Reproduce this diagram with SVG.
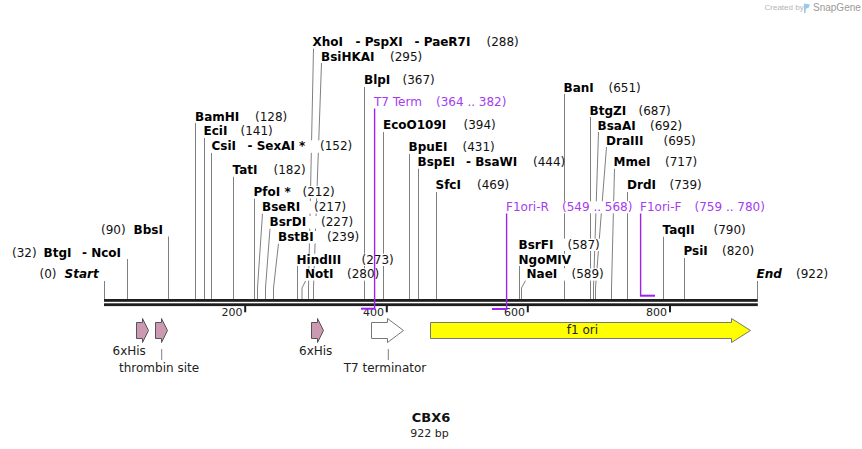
<svg xmlns="http://www.w3.org/2000/svg" width="862" height="449" viewBox="0 0 862 449">
<style>
.nm{font-family:"DejaVu Sans",Verdana,sans-serif;font-size:12px;font-weight:bold;fill:#000}
.it{font-style:italic}
.num{font-family:"DejaVu Sans",Verdana,sans-serif;font-size:12px;fill:#111}
.pr{font-family:"DejaVu Sans",Verdana,sans-serif;font-size:12px;fill:#a43cf0}
.bg{fill:#fff}
.cut{fill:none;stroke:#808080;stroke-width:1}
.prl{fill:none;stroke:#a020f0;stroke-width:1.4}
.prh{fill:none;stroke:#a020f0;stroke-width:2}
.ft{font-family:"DejaVu Sans",Verdana,sans-serif;font-size:12px;fill:#222}
.tk{font-family:"DejaVu Sans",Verdana,sans-serif;font-size:11px;fill:#222;text-anchor:end}
.pink{fill:#cc99b2;stroke:#555;stroke-width:1}
.lead{stroke:#808080;stroke-width:1}
</style>

<g id="connectors">
<path class="cut" d="M104.5,281V299"/>
<path class="cut" d="M127.5,259V299"/>
<path class="cut" d="M168.5,236.5V299"/>
<path class="cut" d="M195.5,123V299"/>
<path class="cut" d="M204.5,138V299"/>
<path class="cut" d="M211.5,153V299"/>
<path class="cut" d="M233.5,176.5V299"/>
<path class="cut" d="M254.5,198.5V299"/>
<path class="cut" d="M262.5,213.5L257.5,288V299"/>
<path class="cut" d="M270,228.5L265.5,288V299"/>
<path class="cut" d="M278.5,243.5L273.5,288V299"/>
<path class="cut" d="M297.5,266V299"/>
<path class="cut" d="M305.5,281L302,288V299"/>
<path class="cut" d="M313.5,48.5L308.5,288V299"/>
<path class="cut" d="M321.5,63L313.5,288V299"/>
<path class="cut" d="M364.5,87V299"/>
<path class="cut" d="M383.5,132V299"/>
<path class="cut" d="M409.5,154V299"/>
<path class="cut" d="M418.5,168.5V299"/>
<path class="cut" d="M436.5,192V299"/>
<path class="cut" d="M519.5,266V299"/>
<path class="cut" d="M525.5,280.5L521.5,288V299"/>
<path class="cut" d="M564.5,94V299"/>
<path class="cut" d="M590.5,117V299"/>
<path class="cut" d="M598.5,132L593.5,288V299"/>
<path class="cut" d="M606.5,147L595.5,288V299"/>
<path class="cut" d="M614.5,168.5L611.5,288V299"/>
<path class="cut" d="M627.5,192V299"/>
<path class="cut" d="M663.5,236.5V299"/>
<path class="cut" d="M684.5,258V299"/>
<path class="cut" d="M757.5,281V299"/>
<path class="lead" d="M161.7,349V360"/>
<path class="lead" d="M388.3,349V360"/>
</g>

<g id="backbone">
<rect x="104" y="299" width="653.8" height="2.8" fill="#1e1e1e"/>
<rect x="104" y="303.3" width="653.8" height="2.8" fill="#1e1e1e"/>
<rect x="244.2" y="306" width="2" height="6.3" fill="#1e1e1e"/>
<rect x="385.8" y="306" width="2" height="6.3" fill="#1e1e1e"/>
<rect x="526.8" y="306" width="2" height="6.3" fill="#1e1e1e"/>
<rect x="669" y="306" width="2" height="6.3" fill="#1e1e1e"/>
<text class="tk" x="242.5" y="316">200</text>
<text class="tk" x="384" y="316">400</text>
<text class="tk" x="525" y="316">600</text>
<text class="tk" x="667" y="316">800</text>
</g>

<g id="site-start"><rect class="bg" x="38" y="268" width="62" height="12.5"/><text class="num" x="39.5" y="278.3">(0)</text><text class="nm it" x="64.5" y="278.3">Start</text></g>
<g id="site-BtgI"><rect class="bg" x="11" y="246.7" width="112" height="12.3"/><text class="num" x="12" y="256.7">(32)</text><text class="nm" x="43.5" y="256.7">BtgI</text><text class="nm" x="82" y="256.7">- NcoI</text></g>
<g id="site-BbsI"><rect class="bg" x="100" y="224" width="66" height="12.5"/><text class="num" x="101" y="234">(90)</text><text class="nm" x="133.5" y="234">BbsI</text></g>
<g id="site-BamHI"><rect class="bg" x="194" y="110.7" width="94" height="12.3"/><text class="nm" x="195" y="120.7">BamHI</text><text class="num" x="255" y="120.7">(128)</text></g>
<g id="site-EciI"><rect class="bg" x="202.5" y="125.3" width="72" height="12.5"/><text class="nm" x="203.5" y="135.3">EciI</text><text class="num" x="240.5" y="135.3">(141)</text></g>
<g id="site-CsiI"><rect class="bg" x="210.5" y="140.3" width="143" height="12.5"/><text class="nm" x="211.5" y="150.3">CsiI</text><text class="nm" x="247.5" y="150.3">- SexAI *</text><text class="num" x="320" y="150.3">(152)</text></g>
<g id="site-TatI"><rect class="bg" x="231.5" y="164" width="76" height="12.5"/><text class="nm" x="232.5" y="174">TatI</text><text class="num" x="273.5" y="174">(182)</text></g>
<g id="site-PfoI"><rect class="bg" x="252.5" y="186" width="84" height="12.5"/><text class="nm" x="253.5" y="196">PfoI *</text><text class="num" x="302.5" y="196">(212)</text></g>
<g id="site-BseRI"><rect class="bg" x="261" y="201" width="87" height="12.5"/><text class="nm" x="262" y="211">BseRI</text><text class="num" x="314" y="211">(217)</text></g>
<g id="site-BsrDI"><rect class="bg" x="268.5" y="216" width="86" height="12.5"/><text class="nm" x="269.5" y="226">BsrDI</text><text class="num" x="321" y="226">(227)</text></g>
<g id="site-BstBI"><rect class="bg" x="277" y="231" width="83" height="12.5"/><text class="nm" x="278" y="241">BstBI</text><text class="num" x="327" y="241">(239)</text></g>
<g id="site-HindIII"><rect class="bg" x="295.5" y="253.7" width="99" height="12.3"/><text class="nm" x="296.5" y="263.7">HindIII</text><text class="num" x="361.5" y="263.7">(273)</text></g>
<g id="site-NotI"><rect class="bg" x="304" y="268.3" width="77" height="12.3"/><text class="nm" x="305" y="278.3">NotI</text><text class="num" x="347" y="278.3">(280)</text></g>
<g id="site-XhoI"><rect class="bg" x="311.5" y="36" width="208" height="12.5"/><text class="nm" x="312.5" y="46">XhoI</text><text class="nm" x="355.5" y="46">- PspXI</text><text class="nm" x="414.5" y="46">- PaeR7I</text><text class="num" x="486.5" y="46">(288)</text></g>
<g id="site-BsiHKAI"><rect class="bg" x="320" y="50.7" width="104" height="12.3"/><text class="nm" x="321" y="60.7">BsiHKAI</text><text class="num" x="390" y="60.7">(295)</text></g>
<g id="site-BlpI"><rect class="bg" x="363" y="74.3" width="73" height="12.5"/><text class="nm" x="364" y="84.3">BlpI</text><text class="num" x="402.5" y="84.3">(367)</text></g>
<g id="site-EcoO109I"><rect class="bg" x="382" y="119.3" width="115" height="12.5"/><text class="nm" x="383" y="129.3">EcoO109I</text><text class="num" x="463.5" y="129.3">(394)</text></g>
<g id="site-BpuEI"><rect class="bg" x="407.5" y="141.3" width="89" height="12.5"/><text class="nm" x="408.5" y="151.3">BpuEI</text><text class="num" x="462.5" y="151.3">(431)</text></g>
<g id="site-BspEI"><rect class="bg" x="416.5" y="156" width="146" height="12.5"/><text class="nm" x="417.5" y="166">BspEI</text><text class="nm" x="466" y="166">- BsaWI</text><text class="num" x="533" y="166">(444)</text></g>
<g id="site-SfcI"><rect class="bg" x="434.5" y="179.3" width="76" height="12.5"/><text class="nm" x="435.5" y="189.3">SfcI</text><text class="num" x="477" y="189.3">(469)</text></g>
<g id="site-BsrFI"><rect class="bg" x="517.5" y="238.7" width="83" height="12.3"/><text class="nm" x="518.5" y="248.7">BsrFI</text><text class="num" x="567.5" y="248.7">(587)</text></g>
<g id="site-NgoMIV"><rect class="bg" x="517.5" y="253.7" width="49" height="12.3"/><text class="nm" x="518.5" y="263.7">NgoMIV</text></g>
<g id="site-NaeI"><rect class="bg" x="525.5" y="268.3" width="79" height="12.3"/><text class="nm" x="526.5" y="278.3">NaeI</text><text class="num" x="571.5" y="278.3">(589)</text></g>
<g id="site-BanI"><rect class="bg" x="562.5" y="81.7" width="80" height="12.3"/><text class="nm" x="563.5" y="91.7">BanI</text><text class="num" x="608.5" y="91.7">(651)</text></g>
<g id="site-BtgZI"><rect class="bg" x="588.5" y="104.7" width="84" height="12.3"/><text class="nm" x="589.5" y="114.7">BtgZI</text><text class="num" x="638.5" y="114.7">(687)</text></g>
<g id="site-BsaAI"><rect class="bg" x="596.5" y="119.7" width="88" height="12.3"/><text class="nm" x="597.5" y="129.7">BsaAI</text><text class="num" x="650" y="129.7">(692)</text></g>
<g id="site-DraIII"><rect class="bg" x="605" y="134.7" width="93" height="12.3"/><text class="nm" x="606" y="144.7">DraIII</text><text class="num" x="663.5" y="144.7">(695)</text></g>
<g id="site-MmeI"><rect class="bg" x="612.5" y="156.3" width="86" height="12.3"/><text class="nm" x="613.5" y="166.3">MmeI</text><text class="num" x="665" y="166.3">(717)</text></g>
<g id="site-DrdI"><rect class="bg" x="626" y="179.3" width="77" height="12.5"/><text class="nm" x="627" y="189.3">DrdI</text><text class="num" x="669.5" y="189.3">(739)</text></g>
<g id="site-TaqII"><rect class="bg" x="661.5" y="224" width="86" height="12.5"/><text class="nm" x="662.5" y="234">TaqII</text><text class="num" x="713.5" y="234">(790)</text></g>
<g id="site-PsiI"><rect class="bg" x="682.5" y="245.3" width="73" height="12.5"/><text class="nm" x="683.5" y="255.3">PsiI</text><text class="num" x="722" y="255.3">(820)</text></g>
<g id="site-end"><rect class="bg" x="755.5" y="268.3" width="74" height="12.5"/><text class="nm it" x="756.5" y="278.3">End</text><text class="num" x="796" y="278.3">(922)</text></g>

<g id="primer-T7Term"><rect class="bg" x="373" y="96" width="133" height="12"/><text class="pr" x="374" y="106">T7 Term</text><text class="pr" x="436" y="106">(364 .. 382)</text></g>
<g id="primer-F1oriR"><rect class="bg" x="505" y="201.3" width="126" height="12"/><text class="pr" x="506" y="211.3">F1ori-R</text><text class="pr" x="562" y="211.3">(549 .. 568)</text></g>
<g id="primer-F1oriF"><rect class="bg" x="639" y="201" width="127" height="12"/><text class="pr" x="640" y="211">F1ori-F</text><text class="pr" x="694.5" y="211">(759 .. 780)</text></g>

<g id="primer-lines">
<path class="prl" d="M374.6,108.5V308.7"/>
<path class="prh" d="M361,308.7H375.3"/>
<path class="prl" d="M506.6,213.5V309"/>
<path class="prh" d="M492,309H507.3"/>
<path class="prl" d="M640.6,213.5V295.7"/>
<path class="prh" d="M639.9,295.7H655"/>
</g>

<g id="feat-6xHis-1"><path class="pink" d="M136.5,322.5H142.5V318.5L148.5,330.5L142.5,342.5V338.5H136.5Z"/><text class="ft" x="112.5" y="355">6xHis</text></g>
<g id="feat-thrombin"><path class="pink" d="M155.5,322.5H161.5V318.5L167.5,330.5L161.5,342.5V338.5H155.5Z"/><text class="ft" x="119" y="371.7">thrombin site</text></g>
<g id="feat-6xHis-2"><path class="pink" d="M311.5,322.5H317.5V318.5L323.5,330.5L317.5,342.5V338.5H311.5Z"/><text class="ft" x="299" y="355">6xHis</text></g>
<g id="feat-T7term"><path d="M371.5,322.5H387.5V318.5L403.5,330.5L387.5,342.5V338.5H371.5Z" fill="#fff" stroke="#777" stroke-width="1"/><text class="ft" x="343.7" y="371.7">T7 terminator</text></g>
<g id="feat-f1ori"><path d="M430.5,322.5H731.5V318.5L750.5,330.5L731.5,342.5V338.5H430.5Z" fill="#ffff00" stroke="#777" stroke-width="1"/><text class="ft" x="582.5" y="334" text-anchor="middle">f1 ori</text></g>

<g id="title">
<text x="431" y="422" text-anchor="middle" font-family="DejaVu Sans, Verdana, sans-serif" font-size="13" font-weight="bold" fill="#111">CBX6</text>
<text x="429.5" y="437" text-anchor="middle" font-family="DejaVu Sans, Verdana, sans-serif" font-size="11" fill="#222">922 bp</text>
</g>

<g id="watermark">
<text x="764.5" y="10" font-family="Liberation Sans, Arial, sans-serif" font-size="8" fill="#b4b4b4">Created by</text>
<path d="M804,3.5L810,4.5L808.5,8L806,8.5L805.5,13L804,13Z" fill="#9cc9ea"/>
<text x="813" y="11" font-family="Liberation Sans, Arial, sans-serif" font-size="10" fill="#9a9a9a">SnapGene</text>
</g>
</svg>
